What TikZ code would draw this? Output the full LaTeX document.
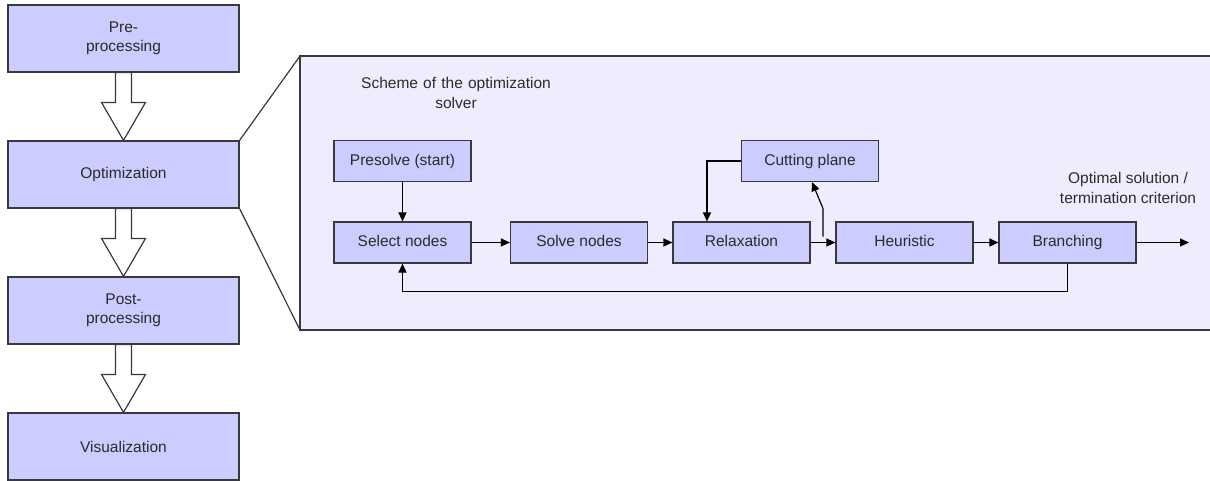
\documentclass[tikz,border=0pt]{standalone}
\usepackage{fontspec}
\setmainfont{Liberation Sans}
\usetikzlibrary{arrows.meta,calc}

\definecolor{boxfill}{HTML}{CCCCFF}
\definecolor{panelfill}{HTML}{EFECFD}
\definecolor{txt}{HTML}{2B2B2B}
\definecolor{edge}{HTML}{36393D}

\tikzset{
    stage/.style={draw=edge, fill=boxfill, minimum width=231pt, minimum height=67pt,
        inner sep=0pt, text width=120pt, align=center, text=txt},
    task/.style={draw=edge, fill=boxfill, minimum width=137pt, minimum height=41pt,
        inner sep=0pt, text height=11.5pt, text depth=3.5pt, text=txt},
    note/.style={text=txt, align=center, inner sep=0pt},
    arr/.style={draw=black, -{Triangle[length=9pt,width=8pt]}},
    hollow/.style={draw=edge, fill=white, line join=miter}
}

% hollow block arrow from the bottom of #1 to the top of #2
\newcommand{\blockarrow}[2]{%
    \draw [hollow] ($(#1.south)+(-8,0)$) -- ($(#2.north)+(-8,-38)$) -- ++(-14,0)
        -- (#2.north) -- ($(#2.north)+(22,-38)$) -- ++(-14,0) -- ($(#1.south)+(8,0)$) -- cycle;}

\begin{document}
\begin{tikzpicture}[x=1pt, y=-1pt, line width=1.2pt,
    font=\fontsize{15.5pt}{19.5pt}\selectfont]
    \useasboundingbox (0,0) rectangle (1210,480);

    % solver panel
    \coordinate (ptl) at (300,56);
    \coordinate (pbl) at (300,330);
    \draw [edge, fill=panelfill] (ptl) rectangle (1216,330);

    % main stages
    \node [stage] (pre) at (123.5,38.5) {Pre-\\processing};
    \node [stage] (opt) at (123.5,174.5) {Optimization};
    \node [stage] (post) at (123.5,310.5) {Post-\\processing};
    \node [stage] (vis) at (123.5,446.5) {Visualization};

    \blockarrow{pre}{opt}
    \blockarrow{opt}{post}
    \blockarrow{post}{vis}

    % zoom lines
    \draw [edge] (opt.north east) -- (ptl);
    \draw [edge] (opt.south east) -- (pbl);

    % solver scheme
    \node [note, text width=240pt] (title) at (456,93) {Scheme of the optimization\\solver};
    \node [task] (presolve) at (402.5,161) {Presolve (start)};
    \node [task] (select) at (402.5,242.5) {Select nodes};
    \node [task] (solve) at (579,242.5) {Solve nodes};
    \node [task] (relax) at (741.5,242.5) {Relaxation};
    \node [task] (heur) at (904.5,242.5) {Heuristic};
    \node [task] (branch) at (1067.5,242.5) {Branching};
    \node [task] (cut) at (810,161) {Cutting plane};
    \node [note] (optimal) at (1128,188) {Optimal solution /\\termination criterion};
    \coordinate (done) at (1189,242.5);
    \coordinate (mid) at ($(relax.east)!0.5!(heur.west)$);

    \draw [arr] (presolve) -- (select);
    \draw [arr] (select) -- (solve);
    \draw [arr] (solve) -- (relax);
    \draw [arr] (relax) -- (heur);
    \draw [arr] (heur) -- (branch);
    \draw [arr] (branch) -- (done);
    \draw [arr] (cut.west) -| ($(relax.north)+(-34.5,0)$);
    \draw [arr] ($(mid)+(0,-6)$) -- ++(0,-28) -- ($(cut.south)+(2,0)$);
    \draw [arr] (branch.south) -- ++(0,27.5) -| (select.south);
\end{tikzpicture}
\end{document}
